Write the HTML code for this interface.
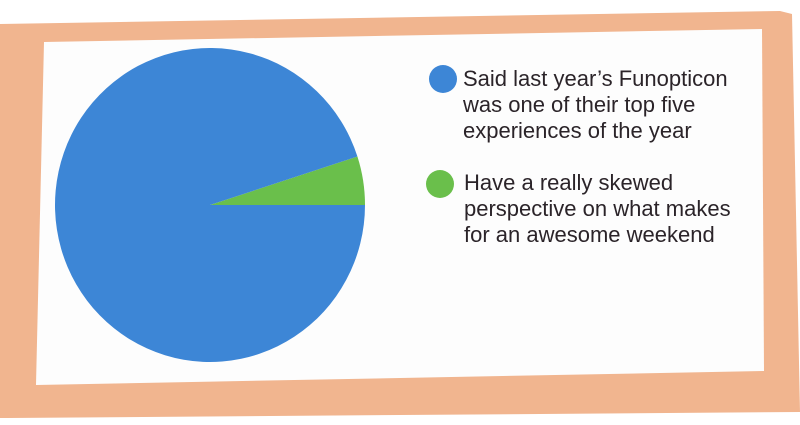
<!DOCTYPE html>
<html><head><meta charset="utf-8"><style>
html,body{margin:0;padding:0;width:800px;height:425px;overflow:hidden;background:#fff;}
svg{display:block}
text{font-family:"Liberation Sans",sans-serif;fill:#2b2429;font-size:22px;}
</style></head><body>
<svg width="800" height="425" viewBox="0 0 800 425">
<polygon points="0,24 780,11 792,14 800,412 8,418 0,418" fill="#f1b58f"/>
<polygon points="44,42 762,29 764,371 36,385" fill="#fdfdfd"/>
<g id="pie"></g>
<g>
<circle cx="443" cy="79" r="14" fill="#3d86d6"/>
<text x="463" y="86">Said last year’s Funopticon</text>
<text x="463" y="112">was one of their top five</text>
<text x="463" y="138">experiences of the year</text>
<circle cx="440" cy="184" r="14" fill="#6abf4b"/>
<text x="464" y="190">Have a really skewed</text>
<text x="464" y="216">perspective on what makes</text>
<text x="464" y="242">for an awesome weekend</text>
</g>
</svg>
<script>
const categories=["Top five experience","Skewed perspective"];
const values=[95,5];
const colors=["#3d86d6","#6abf4b"];
const g=document.getElementById('pie');
const cx=210,cy=205,rx=155,ry=157;
const total=values.reduce((a,b)=>a+b,0);
let end=0;
for(let i=values.length-1;i>=0;i--){
  const a0=end, a1=end+values[i]/total*2*Math.PI;
  const x0=cx+rx*Math.cos(a0), y0=cy-ry*Math.sin(a0);
  const x1=cx+rx*Math.cos(a1), y1=cy-ry*Math.sin(a1);
  const large=(a1-a0)>Math.PI?1:0;
  const p=document.createElementNS('http://www.w3.org/2000/svg','path');
  p.setAttribute('d',`M${cx},${cy} L${x0},${y0} A${rx},${ry} 0 ${large} 0 ${x1},${y1} Z`);
  p.setAttribute('fill',colors[i]);
  
  
  g.appendChild(p);
  end=a1;
}
</script>
</body></html>
